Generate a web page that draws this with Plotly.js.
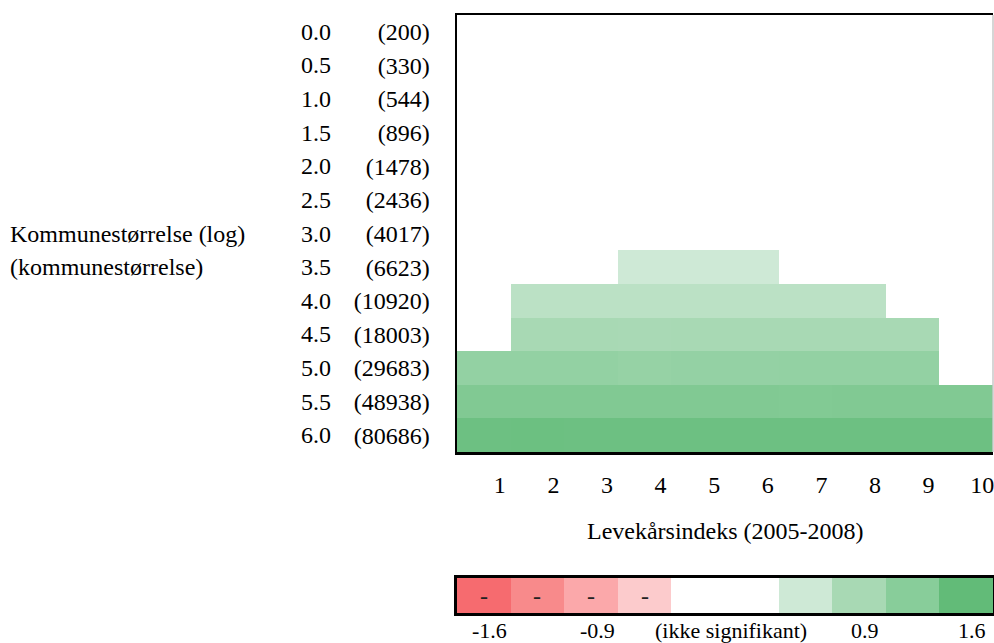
<!DOCTYPE html>
<html>
<head>
<meta charset="utf-8">
<script src="https://cdn.plot.ly/plotly-3.0.1.min.js"></script>
<style>html,body{margin:0;padding:0;background:#fff;}#chart{width:994px;height:643px;}</style>
</head>
<body>
<div id="chart"></div>
<script>
// ---- data ----
const logSizes = [0.0, 0.5, 1.0, 1.5, 2.0, 2.5, 3.0, 3.5, 4.0, 4.5, 5.0, 5.5, 6.0];
const logLabels = ['0.0','0.5','1.0','1.5','2.0','2.5','3.0','3.5','4.0','4.5','5.0','5.5','6.0'];
const sizeLabels = ['(200)','(330)','(544)','(896)','(1478)','(2436)','(4017)','(6623)','(10920)','(18003)','(29683)','(48938)','(80686)'];
const levekar = [1, 2, 3, 4, 5, 6, 7, 8, 9, 10];
const levekarLabels = ['1','2','3','4','5','6','7','8','9','10'];
// effects (null = ikke signifikant)
const effects = [
  [null,null,null,null,null,null,null,null,null,null],
  [null,null,null,null,null,null,null,null,null,null],
  [null,null,null,null,null,null,null,null,null,null],
  [null,null,null,null,null,null,null,null,null,null],
  [null,null,null,null,null,null,null,null,null,null],
  [null,null,null,null,null,null,null,null,null,null],
  [null,null,null,null,null,null,null,null,null,null],
  [null,null,null,0.45,0.45,0.45,null,null,null,null],
  [null,0.67,0.68,0.68,0.68,0.68,0.68,0.67,null,null],
  [null,0.90,0.90,0.89,0.90,0.90,0.90,0.90,0.90,null],
  [1.13,1.13,1.13,1.10,1.12,1.12,1.13,1.13,1.13,null],
  [1.32,1.32,1.32,1.32,1.32,1.32,1.31,1.32,1.32,1.32],
  [1.50,1.51,1.50,1.50,1.50,1.50,1.50,1.50,1.50,1.50]
];
// legend
const legendValues = [-1.6, -1.25, -0.9, -0.45, null, null, 0.45, 0.9, 1.25, 1.6];
const legendMarks = ['-', '-', '-', '-', '', '', '', '', '', ''];
const legendTickAt = [1, 3, 5.5, 8, 10];
const legendTickText = ['-1.6', '-0.9', '(ikke signifikant)', '0.9', '1.6'];

// ---- styling ----
const FONT = 'Liberation Serif, Times New Roman, serif';
const FS = 24;
const zmin = -1.6, zmax = 1.6;
const colorscale = [
  [0.000, '#f66b6f'],
  [0.109, '#f88a8b'],
  [0.219, '#fba8aa'],
  [0.359, '#fccbcc'],
  [0.500, '#ffffff'],
  [0.641, '#cee9d6'],
  [0.781, '#a8d9b4'],
  [0.891, '#88cd9a'],
  [1.000, '#62bb78']
];

const mainTrace = {
  type: 'heatmap', x: levekar, y: logSizes, z: effects,
  colorscale: colorscale, zmin: zmin, zmax: zmax, showscale: false,
  hoverongaps: false, xaxis: 'x', yaxis: 'y'
};
const legendTrace = {
  type: 'heatmap', x: levekar, y: [0], z: [legendValues],
  colorscale: colorscale, zmin: zmin, zmax: zmax, showscale: false,
  hoverongaps: false, xaxis: 'x2', yaxis: 'y2'
};

const yDom = [0.2692, 1];
const txt = (size) => ({family: FONT, size: size, color: '#000'});
const annotations = [];
logSizes.forEach((v, i) => {
  annotations.push({xref: 'paper', yref: 'y', x: -0.232, y: v, xanchor: 'right', yanchor: 'middle',
    text: logLabels[i], showarrow: false, font: txt(FS)});
});
annotations.push({xref: 'paper', yref: 'y', x: -0.838, y: logSizes[6], xanchor: 'left', yanchor: 'middle',
  text: 'Kommunestørrelse (log)', showarrow: false, font: txt(FS)});
annotations.push({xref: 'paper', yref: 'y', x: -0.838, y: logSizes[7], xanchor: 'left', yanchor: 'middle',
  text: '(kommunestørrelse)', showarrow: false, font: txt(FS)});
annotations.push({xref: 'paper', yref: 'paper', x: 0.5, y: 0.137, xanchor: 'center', yanchor: 'middle',
  text: 'Levekårsindeks (2005-2008)', showarrow: false, font: txt(FS)});
legendMarks.forEach((m, i) => {
  if (m) annotations.push({xref: 'x2', yref: 'y2', x: levekar[i], y: 0, xanchor: 'center', yanchor: 'middle',
    text: m, showarrow: false, font: {family: FONT, size: FS, color: '#222'}});
});
legendTickText.forEach((t, i) => {
  annotations.push({xref: 'x2', yref: 'paper', x: legendTickAt[i], y: -0.03, xanchor: 'center', yanchor: 'middle',
    xshift: 6, text: t, showarrow: false, font: txt(22)});
});

const layout = {
  width: 994, height: 643,
  margin: {l: 457, r: 1, t: 15, b: 30, pad: 0},
  paper_bgcolor: '#fff', plot_bgcolor: '#fff',
  font: txt(FS),
  showlegend: false,
  xaxis: {
    domain: [0, 1], anchor: 'y', range: [0.5, 10.5],
    tickmode: 'array', tickvals: levekar, ticktext: levekarLabels,
    showgrid: false, zeroline: false, ticks: '',
    showline: true, linecolor: '#000', linewidth: 2.5, mirror: true,
    ticklabelstandoff: 10, ticklabelshift: 16, ticklabeloverflow: 'allow',
    tickfont: txt(FS)
  },
  yaxis: {
    domain: yDom, anchor: 'x', range: [6.25, -0.25],
    tickmode: 'array', tickvals: logSizes, ticktext: sizeLabels,
    showgrid: false, zeroline: false, ticks: '',
    showline: true, linecolor: '#000', linewidth: 2.5,
    ticklabelstandoff: 20,
    tickfont: txt(FS)
  },
  xaxis2: {
    domain: [0, 1], anchor: 'y2', range: [0.5, 10.5],
    showticklabels: false, showgrid: false, zeroline: false, ticks: '',
    showline: true, linecolor: '#000', linewidth: 3, mirror: true
  },
  yaxis2: {
    domain: [0, 0.0585], anchor: 'x2', range: [-0.5, 0.5],
    showticklabels: false, showgrid: false, zeroline: false, ticks: '',
    showline: true, linecolor: '#000', linewidth: 3, mirror: true
  },
  shapes: [
    {type: 'line', xref: 'paper', yref: 'paper', x0: 1, x1: 1, y0: yDom[0], y1: yDom[1],
     line: {color: '#c8c8c8', width: 1.5}}
  ],
  annotations: annotations
};

Plotly.newPlot('chart', [mainTrace, legendTrace], layout, {displayModeBar: false, staticPlot: true});
</script>
</body>
</html>
